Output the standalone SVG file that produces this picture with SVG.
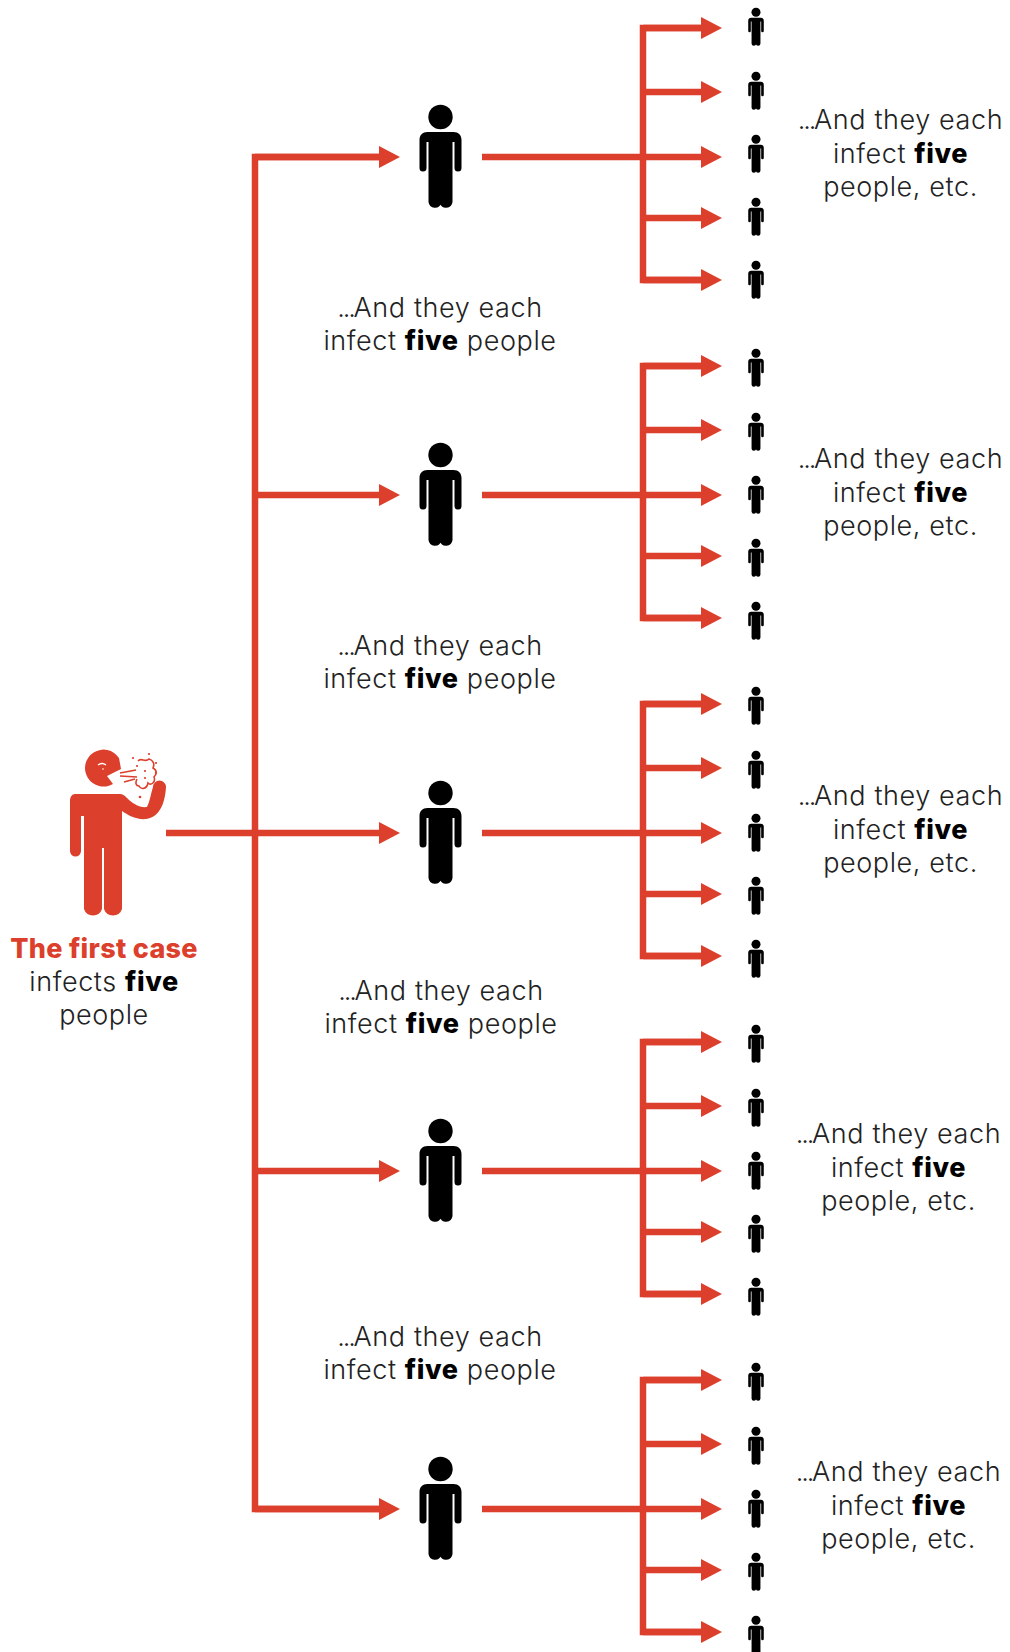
<svg xmlns="http://www.w3.org/2000/svg" xmlns:xlink="http://www.w3.org/1999/xlink" width="1010" height="1652" viewBox="0 0 1010 1652">
<style>
text{font-family:"Inter","Open Sans","Liberation Sans",sans-serif;font-size:27px;font-weight:300;fill:#222;text-anchor:middle;letter-spacing:.6px}
tspan.b{font-weight:800;fill:#000}
tspan.d{letter-spacing:-2.2px}
.r{font-weight:800;fill:#dc3f2b}
.c{fill:none;stroke:#dc3f2b;stroke-width:6.5;marker-end:url(#ah)}
.v{fill:none;stroke:#dc3f2b;stroke-width:6.5}
</style>
<defs>
<marker id="ah" markerUnits="userSpaceOnUse" markerWidth="22" markerHeight="24" refX="0" refY="12" orient="auto"><path d="M0 1L21 12L0 23Z" fill="#dc3f2b"/></marker>
<g id="p"><circle cx="0" cy="-40" r="12.2"/><path d="M-13 -25H13C18 -25 21 -22 21 -17V11A3.5 3.5 0 0 1 14 11V-15H12V45A6.5 6.5 0 0 1 -0.7 46V9H0.7V46A6.5 6.5 0 0 1 -12 45V-15H-14V11A3.5 3.5 0 0 1 -21 11V-17C-21 -22 -18 -25 -13 -25Z"/></g>
<use id="ps" xlink:href="#p" href="#p" transform="scale(.37)"/>
</defs>
<rect width="1010" height="1652" fill="#fff"/>
<g transform="translate(0 1)">
<g id="connectors">
<path class="v" d="M380 156H255V1508H380"/>
<path class="c" d="M255 156H379"/><path class="c" d="M166 832H379"/><path class="c" d="M255 494H379"/><path class="c" d="M255 1170H379"/><path class="c" d="M255 1508H379"/>
<g id="b1"><path class="v" d="M702 27H643V279H702"/><path class="c" d="M643 27H701"/><path class="c" d="M643 91H701"/><path class="c" d="M482 156H701"/><path class="c" d="M643 217H701"/><path class="c" d="M643 279H701"/></g>
<use xlink:href="#b1" href="#b1" y="338"/><use xlink:href="#b1" href="#b1" y="676"/><use xlink:href="#b1" href="#b1" y="1014"/><use xlink:href="#b1" href="#b1" y="1352"/>
</g>
<g id="first-case">
<g fill="#dc3f2b">
<path d="M119 757A18.5 18.5 0 1 0 113 783L107 775L121 768Z"/>
<path d="M75 793H119C123 793 124 794 127 797C133 803 140 807 147 806C150 800 151 792 153 786A6.5 6.5 0 0 1 166 786C165 802 160 816 146 818C136 819 128 814 122 810V846 L122 908A9.5 9.5 0 0 1 104 908V847H102V908A9.5 9.5 0 0 1 84 908V815H81V850A5.5 5.5 0 0 1 70 850V800C70 796 72 793 75 793Z"/>
<circle cx="103" cy="768" r="1" fill="#f3b0a5"/>
</g>
<path d="M98 764Q102 761 106 764" fill="none" stroke="#fff" stroke-width="1.4"/>
<g fill="none" stroke="#dc3f2b" stroke-width="1.6">
<path d="M120 772L136 769M120 775L137 776M124 781L135 778" stroke-width="1.7"/>
<path d="M138 760C141 756 145 762 149 758C153 759 155 763 153 767C157 769 157 773 154 776C156 781 151 785 148 782C147 788 141 789 139 785C136 785 135 782 137 778"/>
</g>
<g fill="#dc3f2b"><circle cx="133" cy="757" r="1.1"/><circle cx="137" cy="765" r="1.1"/><circle cx="149" cy="753" r="1.1"/><circle cx="156" cy="762" r="1.1"/><circle cx="156" cy="772" r="1.1"/><circle cx="140" cy="796" r="1.3"/><circle cx="145" cy="770" r="1.1"/><circle cx="145" cy="777" r="1.1"/></g>
<text x="104" y="957" class="r" style="font-weight:800;fill:#dc3f2b;letter-spacing:.3px">The first case</text>
<text x="104" y="990">infects <tspan class="b">five</tspan></text>
<text x="104" y="1023">people</text>
</g>
<g id="person-1"><use href="#p" x="440.5" y="156"/><text x="440" y="316"><tspan class="d">...</tspan>And they each</text><text x="440" y="349">infect <tspan class="b">five</tspan> people</text></g>
<g id="person-2"><use href="#p" x="440.5" y="494"/><text x="440" y="654"><tspan class="d">...</tspan>And they each</text><text x="440" y="687">infect <tspan class="b">five</tspan> people</text></g>
<g id="person-3"><use href="#p" x="440.5" y="832"/><text x="441" y="999"><tspan class="d">...</tspan>And they each</text><text x="441" y="1032">infect <tspan class="b">five</tspan> people</text></g>
<g id="person-4"><use href="#p" x="440.5" y="1170"/><text x="440" y="1345"><tspan class="d">...</tspan>And they each</text><text x="440" y="1378">infect <tspan class="b">five</tspan> people</text></g>
<g id="person-5"><use href="#p" x="440.5" y="1508"/></g>
<g id="t1"><text x="900.5" y="128"><tspan class="d">...</tspan>And they each</text><text x="900.5" y="162">infect <tspan class="b">five</tspan></text><text x="900.5" y="195">people, etc.</text></g>
<g id="t2"><text x="900.5" y="467"><tspan class="d">...</tspan>And they each</text><text x="900.5" y="501">infect <tspan class="b">five</tspan></text><text x="900.5" y="534">people, etc.</text></g>
<g id="t3"><text x="900.5" y="804"><tspan class="d">...</tspan>And they each</text><text x="900.5" y="838">infect <tspan class="b">five</tspan></text><text x="900.5" y="871">people, etc.</text></g>
<g id="t4"><text x="898.5" y="1142"><tspan class="d">...</tspan>And they each</text><text x="898.5" y="1176">infect <tspan class="b">five</tspan></text><text x="898.5" y="1209">people, etc.</text></g>
<g id="t5"><text x="898.5" y="1480"><tspan class="d">...</tspan>And they each</text><text x="898.5" y="1514">infect <tspan class="b">five</tspan></text><text x="898.5" y="1547">people, etc.</text></g>
<g id="contacts">
<g id="s1"><use href="#ps" transform="translate(756 26)"/><use href="#ps" transform="translate(756 90)"/><use href="#ps" transform="translate(756 153)"/><use href="#ps" transform="translate(756 216)"/><use href="#ps" transform="translate(756 279)"/></g>
<use href="#s1" y="341"/><use href="#s1" y="679"/><use href="#s1" y="1017"/><use href="#s1" y="1355"/>
</g>
</g>
</svg>
